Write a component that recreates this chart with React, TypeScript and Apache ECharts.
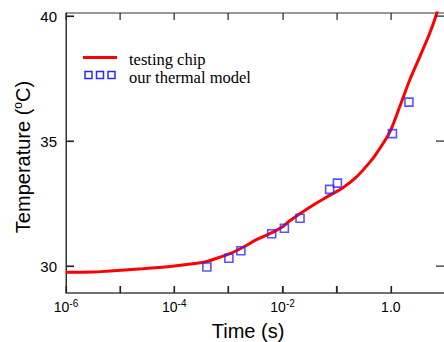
import React, { useEffect, useRef } from "react";
import * as echarts from "echarts";

// Measured curve (testing chip): time in s, temperature in °C
const chipTime = [
  1.0e-6, 3.2e-6, 5.6e-6, 2.6e-5, 8.3e-5, 2.2e-4, 4.0e-4, 6.9e-4, 1.06e-3,
  1.87e-3, 3.3e-3, 5.8e-3, 1.02e-2, 1.36e-2, 3.18e-2, 7.4e-2, 0.13, 0.23,
  0.41, 0.54, 0.95, 1.45, 2.22, 3.4, 5.2, 6.9, 7.9,
];
const chipTemp = [
  29.76, 29.77, 29.8, 29.9, 29.99, 30.1, 30.19, 30.36, 30.5,
  30.76, 31.06, 31.3, 31.59, 31.82, 32.36, 32.83, 33.14, 33.56,
  34.16, 34.5, 35.35, 36.36, 37.43, 38.36, 39.3, 40.05, 40.5,
];

// Thermal model points
const modelTime = [4.0e-4, 1.02e-3, 1.7e-3, 6.3e-3, 1.08e-2, 2.1e-2, 7.4e-2, 0.103, 1.07, 2.16];
const modelTemp = [29.97, 30.32, 30.62, 31.3, 31.52, 31.92, 33.07, 33.32, 35.3, 36.56];

// Axis ranges and ticks
const xRange = [1e-6, 10];
const xTickValues = [1e-6, 1e-5, 1e-4, 1e-3, 1e-2, 1e-1, 1, 10];
const xLabelExponents = [-6, -4, -2, 0];
const yRange = [28.93, 40.12];
const yTickValues = [30, 35, 40];
const yTickStep = 5;

const legendNames = ["testing chip", "our thermal model"];

export default function App() {
  const ref = useRef<HTMLDivElement>(null);
  useEffect(() => {
    if (!ref.current) return;
    const chart = echarts.init(ref.current, null, { renderer: "svg" });
    const axisColor = "#333";
    const tickColor = "#222";
    const sans = "Liberation Sans, Arial, sans-serif";
    const serif = "Liberation Serif, Times New Roman, serif";
    const fmtX = (v: number) => {
      const e = Math.round(Math.log10(v));
      if (Math.abs(Math.log10(v) - e) > 1e-6) return "";
      if (!xLabelExponents.includes(e)) return "";
      if (e === 0) return "{b|1.0}";
      return `{b|10}{s|${e}}`;
    };
    const fmtY = (v: number) => {
      const r = Math.round(v / yTickStep) * yTickStep;
      return Math.abs(v - r) < 1e-6 ? String(r) : "";
    };

    // Tick marks drawn by a custom series through the axes' own scales
    const xTickItem = (params: any, api: any) => {
      const v = api.value(0);
      const pb = api.coord([v, yRange[0]]);
      const pt = api.coord([v, yRange[1]]);
      const x = Math.round(pb[0]) - 0.5;
      return {
        type: "group",
        children: [
          { type: "rect", shape: { x, y: pb[1] - 7, width: 1.2, height: 7 }, style: { fill: tickColor } },
          { type: "rect", shape: { x, y: pt[1], width: 1.2, height: 7 }, style: { fill: tickColor } },
        ],
      };
    };
    const yTickItem = (params: any, api: any) => {
      const v = api.value(1);
      const pl = api.coord([xRange[0], v]);
      const pr = api.coord([xRange[1], v]);
      const y = Math.round(pl[1]) - 0.5;
      return {
        type: "group",
        children: [
          { type: "rect", shape: { x: pl[0], y, width: 8, height: 1.2 }, style: { fill: tickColor } },
          { type: "rect", shape: { x: pr[0] - 9, y, width: 9, height: 1.2 }, style: { fill: tickColor } },
        ],
      };
    };

    chart.setOption({
      animation: false,
      grid: {
        left: 66,
        top: 13,
        width: 379,
        height: 280,
        containLabel: false,
        outerBoundsMode: "none",
        show: true,
        borderColor: axisColor,
        borderWidth: 1,
        backgroundColor: "transparent",
      },
      xAxis: {
        type: "log",
        min: xRange[0],
        max: xRange[1],
        axisLine: { show: true, lineStyle: { color: "#666", width: 1.5 } },
        axisTick: { show: true, inside: true, length: 7, lineStyle: { color: tickColor, width: 1.2 } },
        splitLine: { show: true, lineStyle: { opacity: 0 } },
        axisLabel: {
          formatter: fmtX,
          margin: 5,
          color: "#000",
          fontFamily: sans,
          showMinLabel: true,
          showMaxLabel: true,
          hideOverlap: false,
          rich: {
            b: { fontSize: 14, lineHeight: 16, color: "#000", fontFamily: sans, verticalAlign: "bottom" },
            s: { fontSize: 10, lineHeight: 16, color: "#000", fontFamily: sans, verticalAlign: "top" },
          },
        },
      },
      yAxis: {
        type: "value",
        min: yRange[0],
        max: yRange[1],
        minInterval: yTickStep,
        maxInterval: yTickStep,
        axisLine: { show: true, lineStyle: { color: axisColor, width: 1 } },
        axisTick: { show: true, inside: true, length: 8, lineStyle: { color: tickColor, width: 1.2 } },
        splitLine: { show: true, lineStyle: { opacity: 0 } },
        axisLabel: {
          formatter: fmtY,
          showMinLabel: false,
          showMaxLabel: false,
          fontSize: 15,
          color: "#000",
          margin: 9,
          fontFamily: sans,
        },
      },
      series: [
        {
          name: legendNames[0],
          type: "line",
          data: chipTime.map((t, i) => [t, chipTemp[i]]),
          showSymbol: false,
          smooth: 0.3,
          lineStyle: { color: "#ff0000", width: 3 },
          clip: true,
          z: 2,
        },
        {
          name: legendNames[1],
          type: "scatter",
          data: modelTime.map((t, i) => [t, modelTemp[i]]),
          symbol: "rect",
          symbolSize: 8,
          itemStyle: { color: "rgba(255,255,255,0)", borderColor: "#2a2aff", borderWidth: 1.6 },
          z: 3,
        },
        {
          name: "xTicks",
          type: "custom",
          renderItem: xTickItem,
          data: xTickValues.map((v) => [v, yRange[0]]),
          clip: false,
          silent: true,
          z: 10,
        },
        {
          name: "yTicks",
          type: "custom",
          renderItem: yTickItem,
          data: yTickValues.map((v) => [xRange[0], v]),
          clip: false,
          silent: true,
          z: 10,
        },
      ],
      graphic: [
        {
          type: "line",
          shape: { x1: 83, y1: 57.5, x2: 117, y2: 57.5 },
          style: { stroke: "#ff0000", lineWidth: 3 },
        },
        ...[88.5, 100, 111.5].map((cx) => ({
          type: "rect",
          shape: { x: cx - 3.5, y: 71.5, width: 7, height: 7 },
          style: { fill: "none", stroke: "#2a2aff", lineWidth: 1.5 },
        })),
        {
          type: "text",
          x: 129,
          y: 59,
          style: { text: legendNames[0], fontSize: 16.5, fontFamily: serif, fill: "#000", verticalAlign: "middle", align: "left" },
        },
        {
          type: "text",
          x: 129,
          y: 77,
          style: { text: legendNames[1], fontSize: 16.5, fontFamily: serif, fill: "#000", verticalAlign: "middle", align: "left" },
        },
        {
          type: "text",
          x: 248,
          y: 331,
          style: { text: "Time (s)", fontSize: 20, fontFamily: sans, fill: "#000", align: "center", verticalAlign: "middle" },
        },
        {
          type: "text",
          x: 23,
          y: 157,
          rotation: Math.PI / 2,
          style: {
            text: "Temperature ({s|o}C)",
            fontSize: 20,
            fontFamily: sans,
            fill: "#000",
            align: "center",
            verticalAlign: "middle",
            rich: {
              s: { fontSize: 12, lineHeight: 22, verticalAlign: "top", fontFamily: sans, fill: "#000" },
            },
          },
        },
      ],
    });
    return () => chart.dispose();
  }, []);
  return <div ref={ref} style={{ position: "absolute", left: 0, top: 0, width: 444, height: 342, background: "#fff" }} />;
}
